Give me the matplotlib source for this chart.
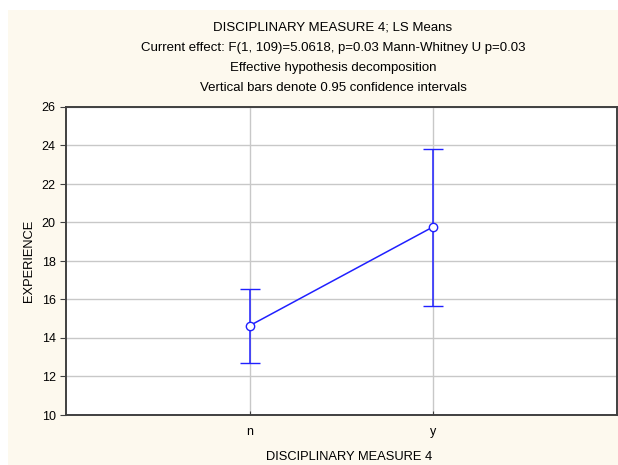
import matplotlib
matplotlib.use("Agg")
import matplotlib.pyplot as plt
from matplotlib.patches import Rectangle

categories = ["n", "y"]
means = [14.64, 19.78]
upper = [16.55, 23.83]
lower = [12.72, 15.68]

plt.rcParams['font.family'] = ['Liberation Sans', 'DejaVu Sans']

fig = plt.figure(figsize=(6.18, 4.65), dpi=100)
fig.patch.set_facecolor('white')
fig.patches.append(Rectangle((8/618, 0), 1, 1 - 10/465, transform=fig.transFigure,
                             facecolor='#FDF9EE', edgecolor='none', zorder=-10))

ax = fig.add_axes([66/618, 50/465, 551/618, 308/465])
ax.set_facecolor('white')
x = [1, 2]
yerr = [[m - l for m, l in zip(means, lower)], [u - m for m, u in zip(means, upper)]]
ax.errorbar(x, means, yerr=yerr, color='#2020FF', lw=1.1, capsize=7, capthick=1.1,
            marker='o', markersize=6, markerfacecolor='white', markeredgecolor='#2020FF',
            markeredgewidth=1.0, zorder=3)
ax.set_xlim(0, 3)
ax.set_ylim(10, 26)
ax.set_yticks(range(10, 27, 2))
ax.set_xticks(x)
ax.set_xticklabels(categories)
ax.grid(True, color='#C8C8C8', lw=1.0)
ax.set_axisbelow(True)
ax.tick_params(axis='y', direction='out', length=4, labelsize=9, color='#404040', right=True)
ax.tick_params(axis='x', direction='in', length=3, labelsize=9, color='#404040', pad=8)
for s in ax.spines.values():
    s.set_color('#404040')
    s.set_linewidth(1.4)
ax.set_ylabel('EXPERIENCE', fontsize=9.3, labelpad=5)
ax.set_xlabel('DISCIPLINARY MEASURE 4', fontsize=9.3)
ax.xaxis.set_label_coords(0.5136, -0.117)

titles = ["DISCIPLINARY MEASURE 4; LS Means",
          "Current effect: F(1, 109)=5.0618, p=0.03 Mann-Whitney U p=0.03",
          "Effective hypothesis decomposition",
          "Vertical bars denote 0.95 confidence intervals"]
for i, t in enumerate(titles):
    fig.text(333/618, 1 - (28 + 20*i)/465, t, ha='center', va='center', fontsize=9.5)

fig.savefig('out.png', dpi=100)
